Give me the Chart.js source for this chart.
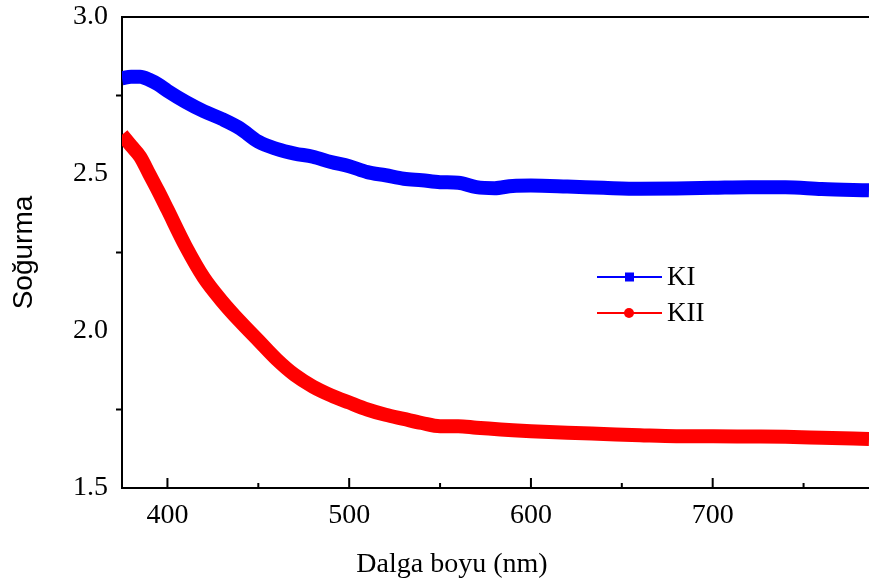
<!DOCTYPE html>
<html>
<head>
<meta charset="utf-8">
<script src="https://cdn.jsdelivr.net/npm/chart.js@4.4.1/dist/chart.umd.min.js"></script>
<style>
  html, body { margin: 0; padding: 0; background: #fff; }
  #wrap { width: 869px; height: 587px; }
</style>
</head>
<body>
<div id="wrap"><canvas id="chart" width="869" height="587"></canvas></div>
<script>
const wavelength = [375, 380, 385, 390, 395, 400, 410, 420, 430, 440, 450, 460, 470, 480, 490, 500,
  510, 520, 530, 540, 550, 560, 570, 580, 590, 600, 620, 640, 660, 680, 700, 720, 740, 760, 786];
const kI = [2.805, 2.81, 2.81, 2.80, 2.785, 2.765, 2.73, 2.70, 2.675, 2.645, 2.603, 2.58, 2.565, 2.555, 2.538, 2.525,
  2.506, 2.496, 2.485, 2.48, 2.474, 2.472, 2.458, 2.455, 2.462, 2.463, 2.46, 2.456, 2.453, 2.454, 2.456, 2.458, 2.458, 2.452, 2.448];
const kII = [2.625, 2.59, 2.555, 2.50, 2.445, 2.387, 2.27, 2.17, 2.095, 2.03, 1.97, 1.91, 1.86, 1.823, 1.795, 1.772,
  1.75, 1.733, 1.72, 1.707, 1.697, 1.697, 1.692, 1.688, 1.684, 1.681, 1.676, 1.672, 1.668, 1.665, 1.665, 1.664, 1.663, 1.66, 1.656];
const seriesNames = ['KI', 'KII'];
const xMajorTicks = [400, 500, 600, 700];
const xMinorTicks = [450, 550, 650, 750];
const yMajorTicks = [1.5, 2.0, 2.5, 3.0];
const yMinorTicks = [1.75, 2.25, 2.75];

const serif = 'Liberation Serif';

// frame, tick marks, legend and x title
const decorations = {
  id: 'decorations',
  afterDraw(chart) {
    const ctx = chart.ctx;
    const area = chart.chartArea;
    const x = chart.scales.x;
    const y = chart.scales.y;
    ctx.save();
    ctx.strokeStyle = '#000';
    ctx.lineWidth = 2;
    ctx.beginPath();
    ctx.moveTo(area.left - 1, area.top);
    ctx.lineTo(area.right, area.top);
    xMajorTicks.forEach(v => {
      const px = x.getPixelForValue(v);
      ctx.moveTo(px, area.bottom);
      ctx.lineTo(px, area.bottom - 10);
    });
    xMinorTicks.forEach(v => {
      const px = x.getPixelForValue(v);
      ctx.moveTo(px, area.bottom);
      ctx.lineTo(px, area.bottom - 5);
    });
    yMinorTicks.forEach(v => {
      const py = y.getPixelForValue(v);
      ctx.moveTo(area.left, py);
      ctx.lineTo(area.left - 6, py);
    });
    ctx.stroke();

    // legend
    chart.data.datasets.forEach((ds, i) => {
      const ly = 277 + i * 36;
      ctx.strokeStyle = ds.borderColor;
      ctx.fillStyle = ds.borderColor;
      ctx.lineWidth = 2;
      ctx.beginPath();
      ctx.moveTo(597, ly);
      ctx.lineTo(662, ly);
      ctx.stroke();
      if (i === 0) {
        ctx.fillRect(625, ly - 4.5, 9, 9);
      } else {
        ctx.beginPath();
        ctx.arc(629, ly, 5, 0, Math.PI * 2);
        ctx.fill();
      }
      ctx.fillStyle = '#000';
      ctx.font = '27px "' + serif + '"';
      ctx.textBaseline = 'middle';
      ctx.textAlign = 'left';
      ctx.fillText(ds.label, 667, ly + 1);
    });

    ctx.fillStyle = '#000';
    ctx.font = '28px "' + serif + '"';
    ctx.textAlign = 'center';
    ctx.textBaseline = 'middle';
    ctx.fillText('Dalga boyu (nm)', 452, 565);
    ctx.restore();
  }
};

new Chart(document.getElementById('chart'), {
  type: 'line',
  data: {
    datasets: [
      {
        label: seriesNames[0],
        data: wavelength.map((w, i) => ({x: w, y: kI[i]})),
        borderColor: '#0000ff',
        backgroundColor: '#0000ff',
        borderWidth: 14,
        pointRadius: 0,
        cubicInterpolationMode: 'monotone'
      },
      {
        label: seriesNames[1],
        data: wavelength.map((w, i) => ({x: w, y: kII[i]})),
        borderColor: '#ff0000',
        backgroundColor: '#ff0000',
        borderWidth: 14,
        pointRadius: 0,
        cubicInterpolationMode: 'monotone'
      }
    ]
  },
  options: {
    responsive: false,
    animation: false,
    layout: { padding: { top: 17, right: 0, left: 0, bottom: 0 } },
    scales: {
      x: {
        type: 'linear',
        min: 375,
        max: 786,
        afterBuildTicks: scale => { scale.ticks = xMajorTicks.map(v => ({value: v})); },
        afterFit: scale => {
          scale.height = 99;
          scale.paddingLeft = 0;
          scale.paddingRight = 0;
        },
        grid: { drawOnChartArea: false, drawTicks: false },
        border: { color: '#000', width: 2 },
        ticks: {
          color: '#000',
          padding: 11,
          maxRotation: 0,
          font: { family: serif, size: 28 }
        }
      },
      y: {
        min: 1.5,
        max: 3.0,
        afterBuildTicks: scale => { scale.ticks = yMajorTicks.map(v => ({value: v})); },
        afterFit: scale => {
          scale.width = 122;
          scale.paddingTop = 0;
          scale.paddingBottom = 0;
        },
        grid: { drawOnChartArea: false, drawTicks: false },
        border: { color: '#000', width: 2 },
        ticks: {
          color: '#000',
          padding: 14,
          font: { family: serif, size: 28 },
          callback: v => v.toFixed(1)
        },
        title: {
          display: true,
          text: 'Soğurma',
          color: '#000',
          padding: { top: 7, bottom: 0 },
          font: { family: 'Liberation Sans', size: 28 }
        }
      }
    },
    plugins: {
      legend: { display: false },
      tooltip: { enabled: false }
    }
  },
  plugins: [decorations]
});
</script>
</body>
</html>
